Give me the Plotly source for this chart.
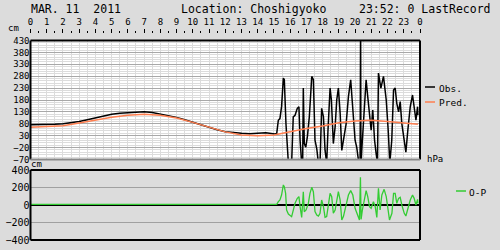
import plotly.graph_objects as go

# ---------------- data ----------------
obs_hour = [0, 0.5, 1, 1.5, 2, 2.5, 3, 3.5, 4, 4.5, 5, 5.5, 6, 6.5, 7, 7.5, 8, 8.5, 9, 9.5,
            10, 10.5, 11, 11.5, 12, 12.5, 13, 13.5, 14, 14.5,
            15.06, 15.17, 15.27, 15.37, 15.47, 15.58, 15.64, 15.74, 15.89, 16.09,
            16.19, 16.3, 16.44, 16.54, 16.61, 16.71, 16.77, 16.81, 16.87, 16.96,
            17.06, 17.18, 17.33, 17.43, 17.53, 17.64, 17.74, 17.84, 17.94, 18.05,
            18.15, 18.25, 18.33, 18.46, 18.54, 18.66, 18.77, 18.87, 18.97, 19.08,
            19.18, 19.28, 19.45, 19.59, 19.73, 19.82, 20.0, 20.1, 20.23, 20.31,
            20.34, 20.36, 20.41, 20.56, 20.68, 20.78, 20.89, 20.99, 21.09, 21.2,
            21.3, 21.38, 21.44, 21.59, 21.75, 21.92, 22.04, 22.14, 22.26, 22.37,
            22.47, 22.57, 22.68, 22.78, 22.88, 23.03, 23.13, 23.25, 23.4, 23.54,
            23.64, 23.75, 23.85, 23.87]
obs_cm = [76, 76, 77, 78, 80, 84, 90, 97, 105, 113, 120, 124, 127, 130, 131, 127, 121, 115, 107, 97,
          86, 75, 64, 55, 47, 42, 40, 38, 39, 42,
          37, 39, 95, 102, 152, 272, 265, 81, -85, -85,
          109, 116, 145, 152, 11, -85, -85, 230, -3, -18,
          25, 109, 279, 265, 11, -25, -85, -85, 145, 109,
          -32, -85, 53, 230, 180, -3, 67, 180, 230, 124,
          -32, 11, 81, 194, 265, 180, 11, -18, -85, -80,
          520, -100, -32, 166, 265, 194, 124, 53, 138, 11,
          -46, -85, 293, 230, 279, 180, 53, -85, 11, 222,
          230, 166, 130, 173, 81, -3, -39, 53, 152, 201,
          152, 95, 152, 116]

pred_hour = [0, 1, 2, 3, 4, 5, 6, 7, 8, 9, 10, 11, 12, 13, 14, 15, 16, 17, 18, 19, 20, 21, 22, 23, 23.87]
pred_cm = [65, 67, 72, 83, 96, 108, 116, 120, 116, 104, 86, 65, 46, 33, 30, 33, 48, 60, 71, 84, 92, 95, 90, 83, 78]

op_hour = [0, 3, 6, 9, 12, 14, 15.06, 15.17, 15.27, 15.37, 15.47, 15.58, 15.64, 15.72, 15.78, 15.89,
           16.09, 16.19, 16.3, 16.44, 16.54, 16.61, 16.71, 16.81, 16.87, 16.98, 17.12, 17.22,
           17.33, 17.43, 17.53, 17.64, 17.74, 17.84, 17.94, 18.05, 18.15, 18.25, 18.35, 18.46,
           18.56, 18.66, 18.77, 18.87, 18.97, 19.08, 19.18, 19.28, 19.45, 19.59, 19.73, 19.86,
           20.0, 20.15, 20.27, 20.33, 20.37, 20.45, 20.56, 20.68, 20.78, 20.89, 20.99, 21.13,
           21.24, 21.34, 21.44, 21.54, 21.65, 21.79, 21.92, 22.02, 22.12, 22.27, 22.37, 22.47,
           22.57, 22.68, 22.78, 22.88, 23.03, 23.13, 23.25, 23.4, 23.54, 23.64, 23.75, 23.85, 23.87]
op_cm = [6, 6, 8, 5, 4, 6, 4, 8, 38, 57, 114, 229, 210, 133, -57, -103,
         -133, -57, 19, 76, 95, -19, -141, 152, -76, -57, 19, 133,
         202, 152, -76, -114, -126, -95, 57, -19, -141, -133, -19, 133,
         95, -95, -57, 57, 152, 57, -171, -133, 19, 114, 164, 114,
         -38, -103, -171, 316, -164, -57, 57, 164, 95, -19, -38, 38,
         -19, -141, 190, -57, 114, 179, 95, -38, -171, -95, 133, 133,
         19, 76, 88, 0, -95, -126, -38, 57, 114, 76, 0, 65, 19]

hour_ticks = list(range(25))
hour_labels = [str(h) for h in range(24)] + ["0"]
cm_ticks_top = [-70, -20, 30, 80, 130, 180, 230, 280, 330, 380, 430]
cm_ticks_bottom = [-400, -200, 0, 200, 400]
hpa_ticks = [600, 800, 1000, 1200, 1400]

# ---------------- figure ----------------
W, H = 500, 250
BG = "#dcdcdc"
MONO = "DejaVu Sans Mono"

def px(x):
    return x / W

def py(y):
    return 1 - y / H

fig = go.Figure()
fig.add_trace(go.Scatter(x=obs_hour, y=obs_cm, mode="lines", line=dict(color="black", width=1.5),
                         xaxis="x", yaxis="y", showlegend=False, hoverinfo="skip"))
fig.add_trace(go.Scatter(x=pred_hour, y=pred_cm, mode="lines", line=dict(color="#ff7f50", width=1.5),
                         xaxis="x", yaxis="y", showlegend=False, hoverinfo="skip"))
fig.add_trace(go.Scatter(x=op_hour, y=op_cm, mode="lines", line=dict(color="#33cc33", width=1.3),
                         xaxis="x2", yaxis="y2", showlegend=False, hoverinfo="skip"))

xdom = [px(30.5), px(420)]
light = "#dcdcdc"
fig.update_layout(
    width=W, height=H, margin=dict(l=0, r=0, t=0, b=0, autoexpand=False),
    paper_bgcolor=BG, plot_bgcolor=BG, showlegend=False,
    font=dict(family=MONO, color="black", size=9),
    xaxis=dict(domain=xdom, range=[0, 24], side="top", anchor="free", position=py(32.5),
               showline=False, zeroline=False, ticks="outside", ticklen=4, tickwidth=1,
               tickcolor="black", tickvals=hour_ticks, ticktext=hour_labels,
               tickfont=dict(size=9, family=MONO), showgrid=True, gridcolor=light, gridwidth=1,
               minor=dict(ticks="outside", ticklen=1.5, tickwidth=1, tickcolor="black",
                          dtick=0.5, tick0=0, showgrid=True, gridcolor=light)),
    yaxis=dict(domain=[py(159.5), py(40.5)], range=[-70, 430], tickvals=cm_ticks_top,
               showline=False, zeroline=False, ticks="", tickfont=dict(size=9, family=MONO),
               showgrid=True, gridcolor="#a8a8a8", gridwidth=1,
               minor=dict(dtick=10, tick0=-70, showgrid=True, gridcolor=light)),
    xaxis2=dict(domain=xdom, range=[0, 24], anchor="y2", showticklabels=False, ticks="",
                showgrid=False, zeroline=False, showline=False),
    yaxis2=dict(domain=[py(240), py(170)], range=[-400, 400], anchor="x2", tickvals=cm_ticks_bottom,
                ticks="", showline=False, showgrid=True, gridcolor="#a0a0a0", gridwidth=1,
                zeroline=True, zerolinecolor="black", zerolinewidth=2,
                tickfont=dict(size=10, family=MONO)),
    yaxis3=dict(overlaying="y2", anchor="x2", side="right", range=[600, 1400], tickvals=hpa_ticks,
                ticks="", showgrid=False, zeroline=False, showline=False,
                tickfont=dict(size=10, family=MONO)),
)

shapes = []
# white plot area of upper panel
shapes.append(dict(type="rect", xref="x domain", yref="y domain", x0=0, x1=1, y0=0, y1=1,
                   fillcolor="white", line=dict(width=0), layer="below"))
# frame upper panel
for (x0, y0, x1, y1, c) in [(0, 0, 0, 1, "black"), (0, 1, 1, 1, "black"), (1, 0, 1, 1, "black"),
                            (0, 0, 1, 0, "#888888")]:
    shapes.append(dict(type="line", xref="x domain", yref="y domain", x0=x0, y0=y0, x1=x1, y1=y1,
                       line=dict(color=c, width=2), layer="above"))
# frame lower panel
for (x0, y0, x1, y1) in [(0, 0, 0, 1), (0, 1, 1, 1), (1, 0, 1, 1), (0, 0, 1, 0)]:
    shapes.append(dict(type="line", xref="x2 domain", yref="y2 domain", x0=x0, y0=y0, x1=x1, y1=y1,
                       line=dict(color="black", width=2), layer="above"))
# legend samples
shapes.append(dict(type="line", xref="paper", yref="paper", x0=px(425), x1=px(435), y0=py(87), y1=py(87),
                   line=dict(color="black", width=1.5)))
shapes.append(dict(type="line", xref="paper", yref="paper", x0=px(425), x1=px(435), y0=py(102), y1=py(102),
                   line=dict(color="#ff7f50", width=1.5)))
shapes.append(dict(type="line", xref="paper", yref="paper", x0=px(456), x1=px(466), y0=py(191), y1=py(191),
                   line=dict(color="#33cc33", width=1.5)))
fig.update_layout(shapes=shapes)

def txt(x, y, s, size=9, anchor="left"):
    fig.add_annotation(text=s, x=px(x), y=py(y), xref="paper", yref="paper", xanchor=anchor,
                       yanchor="middle", showarrow=False, font=dict(family=MONO, size=size, color="black"))

txt(29, 8.5, "MAR. 11  2011", 11.5)
txt(179, 8.5, "Location: Choshigyoko", 11.5)
txt(357, 8.5, "23:52: 0 LastRecord", 11.5)
txt(6, 28, "cm", 9)
txt(29, 164, "cm", 9)
txt(425, 159, "hPa", 9)
txt(437, 88, "Obs.", 9.5)
txt(437, 103, "Pred.", 9.5)
txt(467, 192, "O-P", 9.5)

fig.write_html("out.html")
